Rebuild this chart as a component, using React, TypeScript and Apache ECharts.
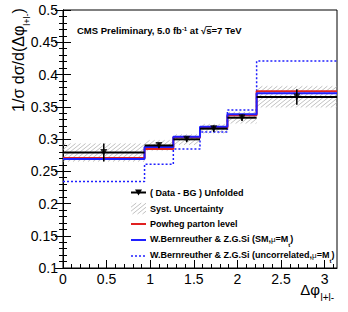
import React, { useEffect, useRef } from "react";
import * as echarts from "echarts";

// ---- data ----
const binEdges = [0, 0.935, 1.265, 1.571, 1.885, 2.22, Math.PI];
const dataValues = [0.279, 0.29, 0.2995, 0.316, 0.333, 0.365];
const dataErrors = [0.014, 0.004, 0.004, 0.005, 0.005, 0.012];
const systLow = [0.265, 0.282, 0.291, 0.309, 0.324, 0.349];
const systHigh = [0.293, 0.298, 0.307, 0.323, 0.342, 0.382];
const powheg = [0.2705, 0.2845, 0.3026, 0.3176, 0.337, 0.374];
const bernSM = [0.269, 0.2876, 0.3036, 0.319, 0.3383, 0.371];
const bernUncorr = [0.234, 0.261, 0.2845, 0.311, 0.345, 0.421];
const xMinorTicks = [
  0.1, 0.2, 0.3, 0.4, 0.6, 0.7, 0.8, 0.9, 1.1, 1.2, 1.3, 1.4, 1.6, 1.7, 1.8, 1.9,
  2.1, 2.2, 2.3, 2.4, 2.6, 2.7, 2.8, 2.9, 3.1,
];
const legendLabels = [
  "( Data - BG ) Unfolded",
  "Syst. Uncertainty",
  "Powheg parton level",
  "W.Bernreuther & Z.G.Si (SM,",
  "W.Bernreuther & Z.G.Si (uncorrelated,",
];
const titleText = ["CMS Preliminary, 5.0 fb", "-1", " at √", "s", "=7 TeV"];
const xTitle = ["Δφ", "l+l-"];

const FONT = '"Liberation Sans", Arial, Helvetica, sans-serif';
const RED = "#e02020";
const BLUE = "#2020ff";
const HATCH = "#a6a6a6";

function stepPoints(vals: number[]) {
  return binEdges.map((e, i) => [e, vals[Math.min(i, vals.length - 1)]]);
}

function hatchLines(L: number, T: number, R: number, B: number) {
  const k = 0.8;
  const step = 4;
  const out: any[] = [];
  const cMin = k * L + T;
  const cMax = k * R + B;
  const start = Math.ceil(cMin / step) * step;
  for (let c = start; c <= cMax; c += step) {
    const xa = Math.max(L, (c - B) / k);
    const xb = Math.min(R, (c - T) / k);
    if (xb > xa + 0.2) {
      out.push({
        type: "line",
        shape: { x1: xa, y1: c - k * xa, x2: xb, y2: c - k * xb },
        style: { stroke: HATCH, lineWidth: 0.7 },
      });
    }
  }
  return out;
}

function measure(text: string, font: string) {
  const ctx = document.createElement("canvas").getContext("2d");
  if (!ctx) return text.length * 5;
  ctx.font = font;
  return ctx.measureText(text).width;
}

export default function App() {
  const ref = useRef<HTMLDivElement>(null);

  useEffect(() => {
    if (!ref.current) return;
    const chart = echarts.init(ref.current, undefined, { renderer: "svg" });

    const hatchData = binEdges.slice(0, -1).map((e, i) => [e, binEdges[i + 1], systLow[i], systHigh[i]]);
    const dataSeg = binEdges.slice(0, -1).map((e, i) => [e, binEdges[i + 1], dataValues[i], dataErrors[i]]);
    const markers = binEdges.slice(0, -1).map((e, i) => [(e + binEdges[i + 1]) / 2, dataValues[i]]);

    const legendRows = [192.5, 208.5, 224, 240, 256];
    const lx0 = 131;
    const lx1 = 146;
    const tx = 150;
    const bold = { fontSize: 9, fontWeight: "bold", fontFamily: FONT, fill: "#000" };
    const legendRich = {
      b: { fontSize: 9, fontWeight: "bold", fontFamily: FONT, lineHeight: 11, verticalAlign: "top" },
      m: { fontSize: 8, fontFamily: FONT, lineHeight: 11, verticalAlign: "top", padding: [1, 0, 0, 0] },
      t: { fontSize: 6, fontWeight: "bold", fontFamily: FONT, lineHeight: 6, verticalAlign: "top", padding: [7, 0, 0, 0] },
    };

    const titleFont = `bold 9.5px ${FONT}`;
    const supFont = `bold 6px ${FONT}`;
    const w1 = measure(titleText[0], titleFont);
    const w2 = measure(titleText[1], supFont);
    const w3 = measure(titleText[2], titleFont);
    const w4 = measure(titleText[3], titleFont);
    const tX = 77;
    const tY = 31.5;

    const graphics: any[] = [
      {
        type: "text",
        x: tX,
        y: tY,
        style: {
          text: `{b|${titleText[0]}}{s|${titleText[1]}}{b|${titleText[2]}${titleText[3]}${titleText[4]}}`,
          align: "left",
          verticalAlign: "middle",
          fill: "#000",
          rich: {
            b: { fontSize: 9.5, fontWeight: "bold", fontFamily: FONT, lineHeight: 12, verticalAlign: "top" },
            s: { fontSize: 6, fontWeight: "bold", fontFamily: FONT, lineHeight: 7, verticalAlign: "top" },
          },
        },
      },
      {
        type: "line",
        shape: { x1: tX + w1 + w2 + w3 - 0.5, y1: tY - 5, x2: tX + w1 + w2 + w3 + w4 + 0.5, y2: tY - 5 },
        style: { stroke: "#000", lineWidth: 0.8 },
      },
      // y axis title
      {
        type: "text",
        x: 19,
        y: 60,
        rotation: Math.PI / 2,
        style: {
          text: "{m|1/σ dσ/d(Δφ}{s|l+l-}{m|)}",
          align: "center",
          verticalAlign: "middle",
          fill: "#000",
          rich: {
            m: { fontSize: 16, fontFamily: FONT, lineHeight: 18, verticalAlign: "top" },
            s: { fontSize: 9, fontFamily: FONT, lineHeight: 9, verticalAlign: "top", padding: [12, 0, 0, 0] },
          },
        },
      },
      // x axis title
      {
        type: "text",
        x: 320,
        y: 289,
        style: { text: xTitle[0], align: "right", verticalAlign: "middle", fill: "#000", fontSize: 15, fontFamily: FONT },
      },
      {
        type: "text",
        x: 320.5,
        y: 297,
        style: { text: xTitle[1], align: "left", verticalAlign: "middle", fill: "#000", fontSize: 10, fontFamily: FONT },
      },
      // legend row 1: data
      { type: "line", shape: { x1: lx0, y1: legendRows[0], x2: lx1, y2: legendRows[0] }, style: { stroke: "#000", lineWidth: 2 } },
      {
        type: "polygon",
        shape: { points: [[lx0 + 4, legendRows[0] - 3], [lx1 - 4, legendRows[0] - 3], [(lx0 + lx1) / 2, legendRows[0] + 3]] },
        style: { fill: "#000" },
      },
      // legend row 2: hatch box
      ...hatchLines(lx0, legendRows[1] - 5.5, lx1, legendRows[1] + 5.5),
      // legend rows 3-5: lines
      { type: "line", shape: { x1: lx0, y1: legendRows[2], x2: lx1, y2: legendRows[2] }, style: { stroke: RED, lineWidth: 2 } },
      { type: "line", shape: { x1: lx0, y1: legendRows[3], x2: lx1, y2: legendRows[3] }, style: { stroke: BLUE, lineWidth: 2 } },
      { type: "line", shape: { x1: lx0, y1: legendRows[4], x2: lx1, y2: legendRows[4] }, style: { stroke: BLUE, lineWidth: 1.5, lineDash: [2, 2] } },
      { type: "text", x: tx, y: legendRows[0], style: { ...bold, text: legendLabels[0], align: "left", verticalAlign: "middle" } },
      { type: "text", x: tx, y: legendRows[1], style: { ...bold, text: legendLabels[1], align: "left", verticalAlign: "middle" } },
      { type: "text", x: tx, y: legendRows[2], style: { ...bold, text: legendLabels[2], align: "left", verticalAlign: "middle" } },
      {
        type: "text",
        x: tx,
        y: legendRows[3],
        style: { text: `{b|${legendLabels[3]}}{m|μ}{b|=M}{t|t}{b|)}`, align: "left", verticalAlign: "middle", fill: "#000", rich: legendRich },
      },
      {
        type: "text",
        x: tx,
        y: legendRows[4],
        style: { text: `{b|${legendLabels[4]}}{m|μ}{b|=M}{t|t}{b|)}`, align: "left", verticalAlign: "middle", fill: "#000", rich: legendRich },
      },
    ];

    const axisLine = { show: true, lineStyle: { color: "#000", width: 1 } };

    chart.setOption({
      animation: false,
      grid: { left: 63, right: 11, top: 10, bottom: 44, show: true, borderColor: "#000", borderWidth: 1 },
      xAxis: [
        {
          type: "value",
          min: 0,
          max: Math.PI,
          interval: 0.5,
          axisLine,
          axisTick: { show: true, inside: true, length: 8, lineStyle: { color: "#000" } },
          axisLabel: { showMaxLabel: false, color: "#000", fontSize: 14, fontFamily: FONT, margin: 4 },
          splitLine: { show: false },
        },
        {
          type: "value",
          min: 0,
          max: Math.PI,
          position: "bottom",
          axisLine: { show: false },
          axisTick: { show: true, inside: true, length: 4, customValues: xMinorTicks, lineStyle: { color: "#000" } },
          axisLabel: { show: false },
          splitLine: { show: false },
        },
      ],
      yAxis: [
        {
          type: "value",
          min: 0.1,
          max: 0.5,
          interval: 0.05,
          axisLine,
          axisTick: { show: true, inside: true, length: 8, lineStyle: { color: "#000" } },
          minorTick: { show: true, splitNumber: 5, length: 4, lineStyle: { color: "#000" } },
          axisLabel: { color: "#000", fontSize: 14, fontFamily: FONT, margin: 5 },
          splitLine: { show: false },
        },
        {
          type: "value",
          position: "right",
          min: 0.1,
          max: 0.5,
          interval: 0.05,
          axisLine,
          axisTick: { show: true, inside: true, length: 8, lineStyle: { color: "#000" } },
          minorTick: { show: true, splitNumber: 5, length: 4, lineStyle: { color: "#000" } },
          axisLabel: { show: false },
          splitLine: { show: false },
        },
      ],
      series: [
        {
          type: "custom",
          name: "Syst. Uncertainty",
          data: hatchData,
          clip: true,
          z: 1,
          renderItem: (params: any, api: any) => {
            const p0 = api.coord([api.value(0), api.value(3)]);
            const p1 = api.coord([api.value(1), api.value(2)]);
            return { type: "group", children: hatchLines(p0[0], p0[1], p1[0], p1[1]) };
          },
        },
        {
          type: "line",
          name: "uncorrelated",
          data: stepPoints(bernUncorr),
          step: "end",
          symbol: "none",
          z: 2,
          lineStyle: { color: BLUE, width: 1.5, type: [2, 2] },
        },
        {
          type: "line",
          name: "Powheg",
          data: stepPoints(powheg),
          step: "end",
          symbol: "none",
          z: 3,
          lineStyle: { color: RED, width: 2 },
        },
        {
          type: "line",
          name: "SM",
          data: stepPoints(bernSM),
          step: "end",
          symbol: "none",
          z: 4,
          lineStyle: { color: BLUE, width: 2 },
        },
        {
          type: "custom",
          name: "Data",
          data: dataSeg,
          z: 5,
          renderItem: (params: any, api: any) => {
            const x0 = api.value(0);
            const x1 = api.value(1);
            const y = api.value(2);
            const e = api.value(3);
            const a = api.coord([x0, y]);
            const b = api.coord([x1, y]);
            const c = (x0 + x1) / 2;
            const hi = api.coord([c, y + e]);
            const lo = api.coord([c, y - e]);
            return {
              type: "group",
              children: [
                { type: "line", shape: { x1: a[0], y1: a[1], x2: b[0], y2: b[1] }, style: { stroke: "#000", lineWidth: 2 } },
                { type: "line", shape: { x1: hi[0], y1: hi[1], x2: lo[0], y2: lo[1] }, style: { stroke: "#000", lineWidth: 1.5 } },
              ],
            };
          },
        },
        {
          type: "scatter",
          name: "Data markers",
          data: markers,
          symbol: "triangle",
          symbolRotate: 180,
          symbolSize: 7,
          z: 6,
          itemStyle: { color: "#000" },
        },
      ],
      graphic: graphics,
    });

    return () => chart.dispose();
  }, []);

  return (
    <div
      ref={ref}
      style={{ position: "absolute", left: 0, top: 0, width: 348, height: 312, background: "#fff" }}
    />
  );
}
